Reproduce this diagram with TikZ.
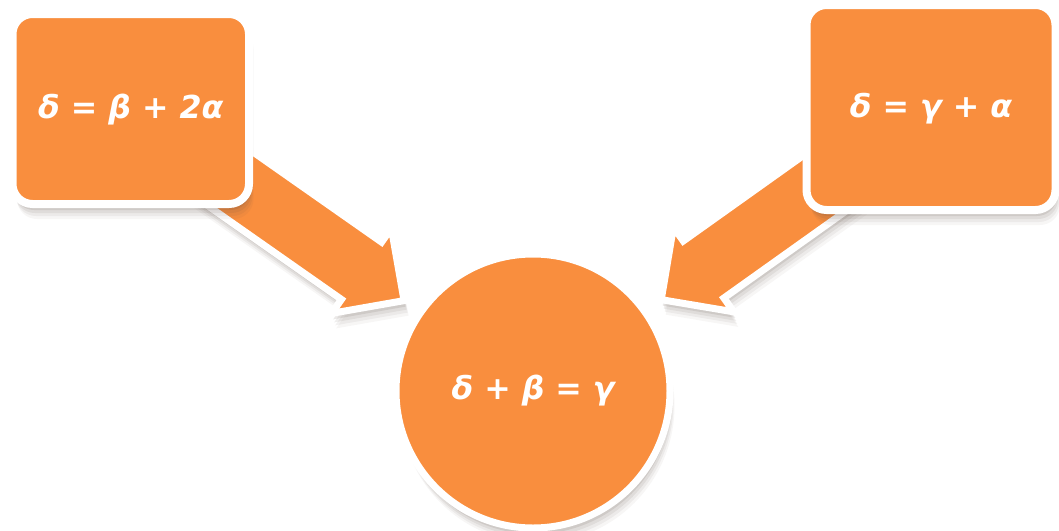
\documentclass[tikz,border=0pt]{standalone}
\usepackage{fontspec}
\setmainfont{DejaVu Sans}
\usetikzlibrary{positioning,calc,shapes.arrows,shadows,backgrounds}
\definecolor{eqorange}{HTML}{F98E3E}
\definecolor{shadeink}{HTML}{5A4A40}
\newcommand{\eqfont}{\fontsize{18}{22}\selectfont\bfseries\itshape}

\begin{document}
\begin{tikzpicture}[
  softshadow/.style={
    general shadow={fill=shadeink, opacity=0.05, shadow xshift=0.09cm, shadow yshift=-0.30cm},
    general shadow={fill=shadeink, opacity=0.07, shadow xshift=0.07cm, shadow yshift=-0.24cm},
    general shadow={fill=shadeink, opacity=0.09, shadow xshift=0.05cm, shadow yshift=-0.18cm},
    general shadow={fill=shadeink, opacity=0.12, shadow xshift=0.03cm, shadow yshift=-0.12cm}},
  eqbox/.style={rectangle, rounded corners=0.4cm, draw=white, line width=0.16cm,
                fill=eqorange, text=white, font=\eqfont, align=center,
                text depth=0.1cm, softshadow},
  eqcircle/.style={circle, draw=white, line width=0.14cm, minimum size=5.48cm,
                   inner sep=0pt, fill=eqorange, text=white, font=\eqfont, softshadow},
  blockarrow/.style={single arrow, single arrow tip angle=90,
                     single arrow head extend=0.34cm, minimum height=6.2cm,
                     inner xsep=0pt, inner ysep=0.63cm, draw=white,
                     line width=0.14cm, fill=eqorange, softshadow},
]
\useasboundingbox (0,0) rectangle (21.18,-10.62);

% --- Result circle ---
\node[eqcircle] (circ) at (10.66,-7.82) {δ + β = γ};

% --- Two relations, top left and top right ---
\node[eqbox, minimum width=4.73cm, minimum height=3.8cm]
  (boxL) at ($(circ)+(-8.045,5.64)$) {δ = β + 2α};
\node[eqbox, minimum width=4.98cm, minimum height=4.1cm]
  (boxR) at ($(circ)+(7.96,5.67)$) {δ = γ + α};

% --- Block arrows, tails hidden under the boxes ---
\begin{scope}[on background layer]
  \path let \p1 = ($(boxL)-(circ)$), \n1 = {atan2(\y1,\x1)} in
    node[blockarrow, rotate=\n1+180, anchor=tip]
      (arrL) at ($(circ)!3.05cm!(boxL)$) {};
  \path let \p1 = ($(boxR)-(circ)$), \n1 = {atan2(\y1,\x1)} in
    node[blockarrow, rotate=\n1+180, anchor=tip]
      (arrR) at ($(circ)!3.05cm!(boxR)$) {};
\end{scope}
\end{tikzpicture}
\end{document}
